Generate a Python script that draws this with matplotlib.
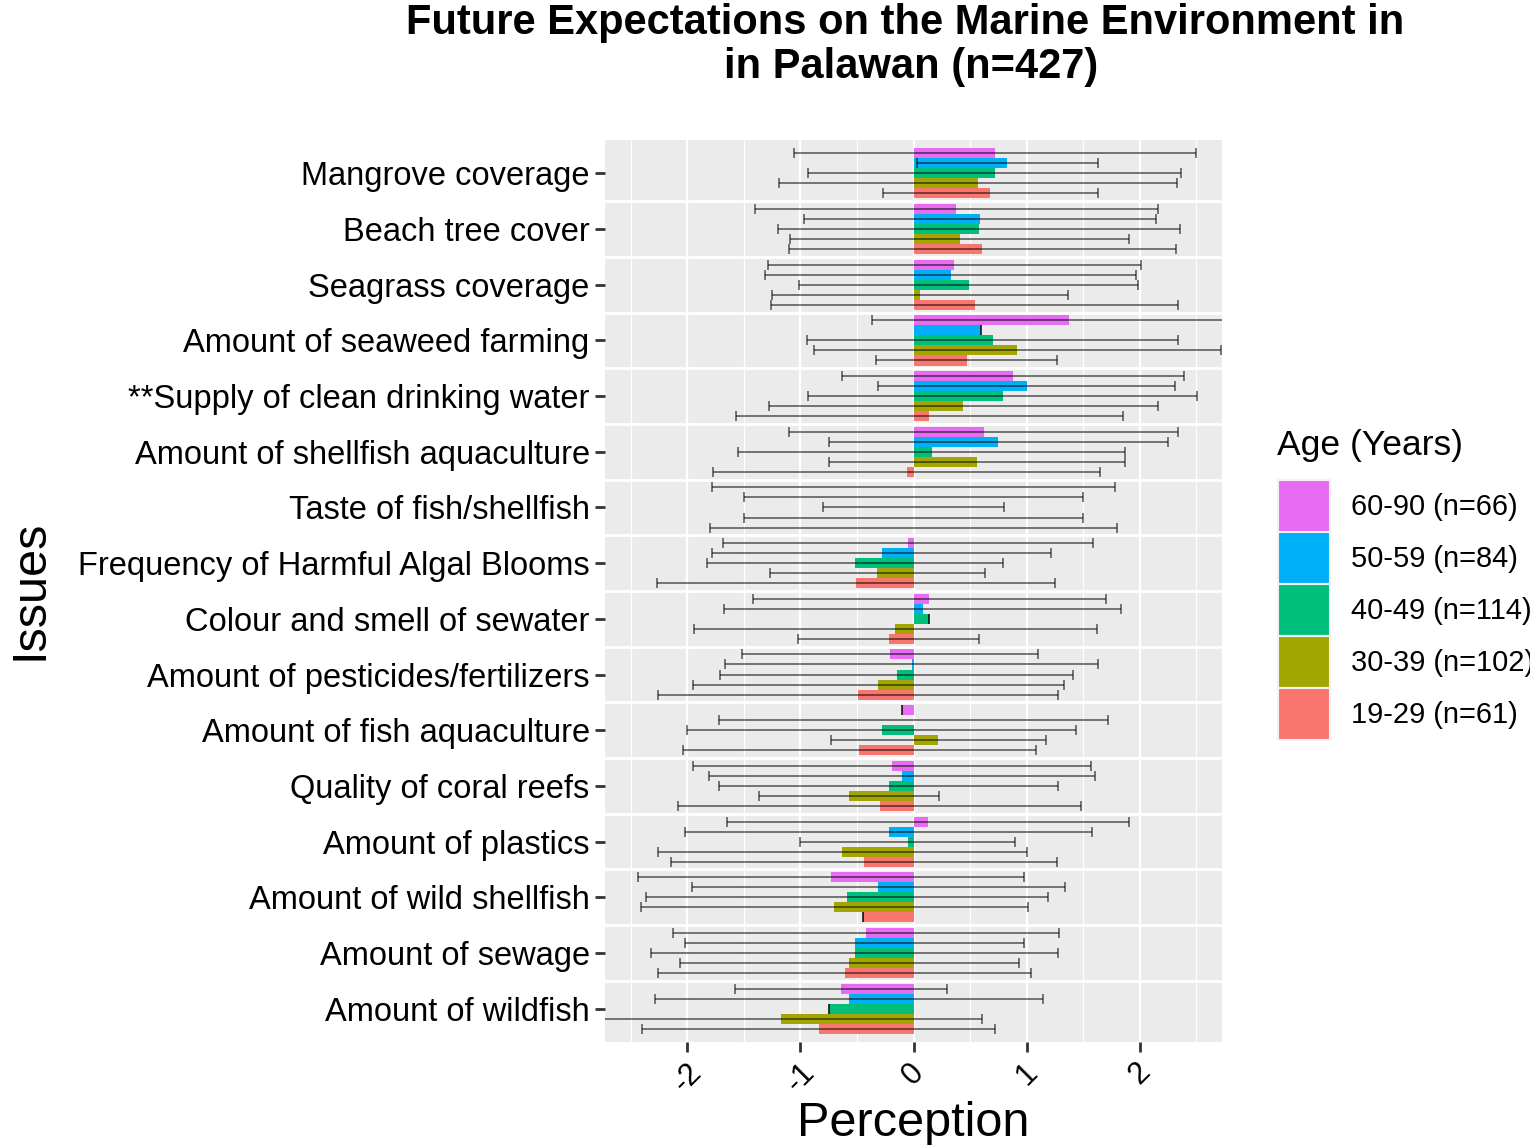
# Future expectations on the marine environment in Palawan: mean perception by age group
import numpy as np
import matplotlib
matplotlib.use("Agg")
import matplotlib.pyplot as plt
from matplotlib.patches import Patch

plt.rcParams["font.family"] = ["Liberation Sans", "DejaVu Sans"]

# Issues, top to bottom as shown
issues = ["Mangrove coverage", "Beach tree cover", "Seagrass coverage",
          "Amount of seaweed farming", "**Supply of clean drinking water",
          "Amount of shellfish aquaculture", "Taste of fish/shellfish",
          "Frequency of Harmful Algal Blooms", "Colour and smell of sewater",
          "Amount of pesticides/fertilizers", "Amount of fish aquaculture",
          "Quality of coral reefs", "Amount of plastics", "Amount of wild shellfish",
          "Amount of sewage", "Amount of wildfish"]

# Age groups, bottom to top inside each issue
ages = ["19-29 (n=61)", "30-39 (n=102)", "40-49 (n=114)", "50-59 (n=84)", "60-90 (n=66)"]
colors = ["#F8766D", "#A3A500", "#00BF7D", "#00B0F6", "#E76BF3"]

# mean perception per issue (same order as issues)
mean_19_29 = [0.68, 0.61, 0.54, 0.47, 0.14, -0.06, 0.0, -0.51, -0.22, -0.49, -0.48, -0.30, -0.44, -0.45, -0.61, -0.84]
mean_30_39 = [0.57, 0.41, 0.06, 0.92, 0.44, 0.56, 0.0, -0.32, -0.16, -0.31, 0.22, -0.57, -0.63, -0.70, -0.57, -1.17]
mean_40_49 = [0.72, 0.58, 0.49, 0.70, 0.79, 0.16, 0.0, -0.52, 0.14, -0.15, -0.28, -0.22, -0.05, -0.59, -0.52, -0.75]
mean_50_59 = [0.83, 0.59, 0.33, 0.60, 1.00, 0.75, 0.0, -0.28, 0.08, -0.015, 0.0, -0.10, -0.22, -0.31, -0.52, -0.57]
mean_60_90 = [0.72, 0.38, 0.36, 1.38, 0.88, 0.62, 0.0, -0.05, 0.14, -0.21, -0.10, -0.19, 0.13, -0.73, -0.42, -0.64]

# standard deviations (error bars)
sd_19_29 = [0.95, 1.71, 1.80, 0.80, 1.71, 1.71, 1.80, 1.76, 0.80, 1.77, 1.56, 1.78, 1.71, 0.0, 1.65, 1.56]
sd_30_39 = [1.76, 1.50, 1.31, 1.80, 1.72, 1.31, 1.50, 0.95, 1.78, 1.64, 0.95, 0.80, 1.63, 1.71, 1.50, 1.78]
sd_40_49 = [1.65, 1.78, 1.50, 1.64, 1.72, 1.71, 0.80, 1.31, 0.0, 1.56, 1.72, 1.50, 0.95, 1.78, 1.80, 0.0]
sd_50_59 = [0.80, 1.56, 1.64, 0.0, 1.31, 1.50, 1.50, 1.50, 1.76, 1.65, 1.72, 1.71, 1.80, 1.65, 1.50, 1.72]
sd_60_90 = [1.78, 1.78, 1.65, 1.75, 1.51, 1.72, 1.78, 1.64, 1.56, 1.31, 0.0, 1.76, 1.78, 1.71, 1.71, 0.94]

means = [mean_19_29, mean_30_39, mean_40_49, mean_50_59, mean_60_90]
sds = [sd_19_29, sd_30_39, sd_40_49, sd_50_59, sd_60_90]

n = len(issues)
ypos = np.arange(n, 0, -1)  # Mangrove at top
bw = 0.9 / len(ages)

fig = plt.figure(figsize=(15.3, 11.45), dpi=100)
ax = fig.add_axes([605 / 1530, 1 - 1042 / 1145, (1222 - 605) / 1530, (1042 - 140) / 1145])
ax.set_facecolor("#EBEBEB")

# grid
for v in [-2.5, -1.5, -0.5, 0.5, 1.5, 2.5]:
    ax.axvline(v, color="white", lw=0.8, zorder=0)
for v in [-2, -1, 0, 1, 2]:
    ax.axvline(v, color="white", lw=1.6, zorder=0)
for y in np.arange(1.5, n, 1):
    ax.axhline(y, color="white", lw=2.0, zorder=0)

for j in range(len(ages)):
    y = ypos + (j - 2) * bw
    ax.barh(y, means[j], height=bw, color=colors[j], zorder=2)
    ax.errorbar(means[j], y, xerr=sds[j], fmt="none", ecolor="black", alpha=0.6,
                elinewidth=1.2, capsize=3.5, capthick=1.2, zorder=3)

ax.set_xlim(-2.73, 2.73)
ax.set_ylim(0.4, n + 0.6)
ax.set_xticks([-2, -1, 0, 1, 2])
ax.set_xticklabels(["-2", "-1", "0", "1", "2"], rotation=45, ha="center")
ax.set_yticks(ypos)
ax.set_yticklabels(issues)
ax.tick_params(axis="y", labelsize=23.5, length=7, width=2, color="#333333", labelcolor="black", pad=4)
ax.tick_params(axis="x", labelsize=22, length=7, width=2, color="#333333", labelcolor="black", pad=4)
for s in ax.spines.values():
    s.set_visible(False)

ax.set_xlabel("Perception", fontsize=35, labelpad=2)
fig.text(30 / 1530, 1 - 590 / 1145, "Issues", fontsize=35, rotation=90, ha="center", va="center")

fig.text(911 / 1530, 1 - 45 / 1145,
         "Future Expectations on the Marine Environment in \nin Palawan (n=427)",
         fontsize=30, fontweight="bold", ha="center", va="center", linespacing=1.15)

# legend
fig.text(1277 / 1530, 1 - 445 / 1145, "Age (Years)", fontsize=25.5, ha="left", va="center")
handles = [Patch(facecolor=colors[j], edgecolor="#F2F2F2", linewidth=1.5) for j in range(len(ages))][::-1]
leg = ax.legend(handles, ages[::-1], loc="upper left",
                bbox_to_anchor=(1278 / 1530, 1 - 480 / 1145), bbox_transform=fig.transFigure,
                frameon=False, fontsize=20.9, handlelength=1.8,
                handleheight=2.38, labelspacing=0.0, handletextpad=0.7, borderaxespad=0,
                borderpad=0)

fig.savefig("out.png", dpi=100)
